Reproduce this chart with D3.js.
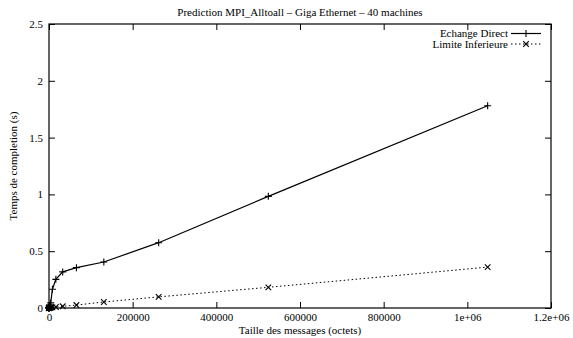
<!DOCTYPE html>
<html>
<head>
<meta charset="utf-8">
<script src="https://cdn.jsdelivr.net/npm/d3@7"></script>
<style>
  html, body { margin: 0; padding: 0; background: #fff; }
  svg { display: block; }
  svg text { font-family: "Liberation Serif", "Times New Roman", Times, "DejaVu Serif", serif !important; fill: #000; }
</style>
</head>
<body>
<svg id="chart" width="573" height="338"></svg>
<script>
// Message sizes (bytes)
const sizes = [1, 2, 4, 8, 16, 32, 64, 128, 256, 512, 1024, 2048, 4096, 8192,
  16384, 32768, 65536, 131072, 262144, 524288, 1048576];
// Completion time (s), direct exchange
const echangeDirect = [0.001, 0.001, 0.001, 0.001, 0.002, 0.002, 0.003, 0.004, 0.005,
  0.008, 0.012, 0.025, 0.045, 0.165, 0.252, 0.318, 0.355, 0.405, 0.575, 0.983, 1.78];
// Completion time (s), lower bound
const limiteInferieure = [0.0005, 0.0005, 0.0005, 0.0005, 0.0005, 0.0006, 0.0007, 0.0008, 0.001,
  0.0015, 0.002, 0.003, 0.004, 0.006, 0.009, 0.015, 0.026, 0.053, 0.098, 0.182, 0.36];

const xTicks = [0, 200000, 400000, 600000, 800000, 1000000, 1200000];
const xTickLabels = ["0", "200000", "400000", "600000", "800000", "1e+06", "1.2e+06"];
const yTicks = [0, 0.5, 1, 1.5, 2, 2.5];
const yTickLabels = ["0", "0.5", "1", "1.5", "2", "2.5"];

const titleText = "Prediction MPI_Alltoall \u2013 Giga Ethernet \u2013 40 machines";
const xLabel = "Taille des messages (octets)";
const yLabel = "Temps de completion (s)";
const seriesNames = ["Echange Direct", "Limite Inferieure"];

const svg = d3.select("#chart");
const m = { left: 49, right: 551, top: 24, bottom: 308 };
const fs = 11;

const x = d3.scaleLinear().domain([0, 1200000]).range([m.left, m.right]);
const y = d3.scaleLinear().domain([0, 2.5]).range([m.bottom, m.top]);

const tickLen = 6;

// Bottom axis (labels) and top mirror
const gx = svg.append("g").attr("transform", `translate(0,${m.bottom})`)
  .call(d3.axisBottom(x).tickValues(xTicks).tickFormat((d, i) => xTickLabels[i])
    .tickSizeInner(-tickLen).tickSizeOuter(0).tickPadding(5));
const gxTop = svg.append("g").attr("transform", `translate(0,${m.top})`)
  .call(d3.axisTop(x).tickValues(xTicks).tickFormat("")
    .tickSizeInner(-tickLen).tickSizeOuter(0));
// Left axis (labels) and right mirror
const gy = svg.append("g").attr("transform", `translate(${m.left},0)`)
  .call(d3.axisLeft(y).tickValues(yTicks).tickFormat((d, i) => yTickLabels[i])
    .tickSizeInner(-tickLen).tickSizeOuter(0).tickPadding(6));
const gyRight = svg.append("g").attr("transform", `translate(${m.right},0)`)
  .call(d3.axisRight(y).tickValues(yTicks).tickFormat("")
    .tickSizeInner(-tickLen).tickSizeOuter(0));

[gx, gxTop, gy, gyRight].forEach(g => {
  g.attr("font-family", null).attr("font-size", null);
  g.select(".domain").remove();
  g.selectAll("line").attr("stroke", "#000").attr("stroke-width", 1);
  g.selectAll("text").style("font-size", fs + "px").attr("fill", "#000");
});

// Frame
svg.append("rect")
  .attr("x", m.left).attr("y", m.top)
  .attr("width", m.right - m.left).attr("height", m.bottom - m.top)
  .attr("fill", "none").attr("stroke", "#000").attr("stroke-width", 1.2);

// Title and axis titles
svg.append("text").attr("x", (m.left + m.right) / 2).attr("y", 16)
  .attr("text-anchor", "middle").style("font-size", fs + "px").text(titleText);
svg.append("text").attr("x", (m.left + m.right) / 2).attr("y", 334)
  .attr("text-anchor", "middle").style("font-size", fs + "px").text(xLabel);
svg.append("text")
  .attr("transform", `translate(17,${(m.top + m.bottom) / 2}) rotate(-90)`)
  .attr("text-anchor", "middle").style("font-size", fs + "px").text(yLabel);

const data1 = sizes.map((s, i) => [s, echangeDirect[i]]);
const data2 = sizes.map((s, i) => [s, limiteInferieure[i]]);

const line = d3.line().x(d => x(d[0])).y(d => y(d[1]));

svg.append("path").datum(data2).attr("d", line)
  .attr("fill", "none").attr("stroke", "#000").attr("stroke-width", 1)
  .attr("stroke-dasharray", "1.5,2.5");
svg.append("path").datum(data1).attr("d", line)
  .attr("fill", "none").attr("stroke", "#000").attr("stroke-width", 1.2);

const ps = 3.5;
function plus(g, cx, cy) {
  g.append("path").attr("d", `M${cx - ps},${cy}H${cx + ps}M${cx},${cy - ps}V${cy + ps}`)
    .attr("stroke", "#000").attr("stroke-width", 1.1).attr("fill", "none");
}
function cross(g, cx, cy) {
  const s = ps * 0.8;
  g.append("path").attr("d", `M${cx - s},${cy - s}L${cx + s},${cy + s}M${cx - s},${cy + s}L${cx + s},${cy - s}`)
    .attr("stroke", "#000").attr("stroke-width", 1.1).attr("fill", "none");
}
const pts = svg.append("g");
data1.forEach(d => plus(pts, x(d[0]), y(d[1])));
data2.forEach(d => cross(pts, x(d[0]), y(d[1])));

// Legend
const lg = svg.append("g");
const legX = 508, rows = [33.5, 44];
seriesNames.forEach((name, i) => {
  lg.append("text").attr("x", legX).attr("y", rows[i]).attr("dy", "0.32em")
    .attr("text-anchor", "end").style("font-size", fs + "px").text(name);
  const l = lg.append("line").attr("x1", legX + 3).attr("x2", legX + 33)
    .attr("y1", rows[i]).attr("y2", rows[i]).attr("stroke", "#000");
  if (i === 0) { l.attr("stroke-width", 1.2); plus(lg, legX + 18, rows[i]); }
  else { l.attr("stroke-width", 1).attr("stroke-dasharray", "1.5,2.5"); cross(lg, legX + 18, rows[i]); }
});
</script>
</body>
</html>
